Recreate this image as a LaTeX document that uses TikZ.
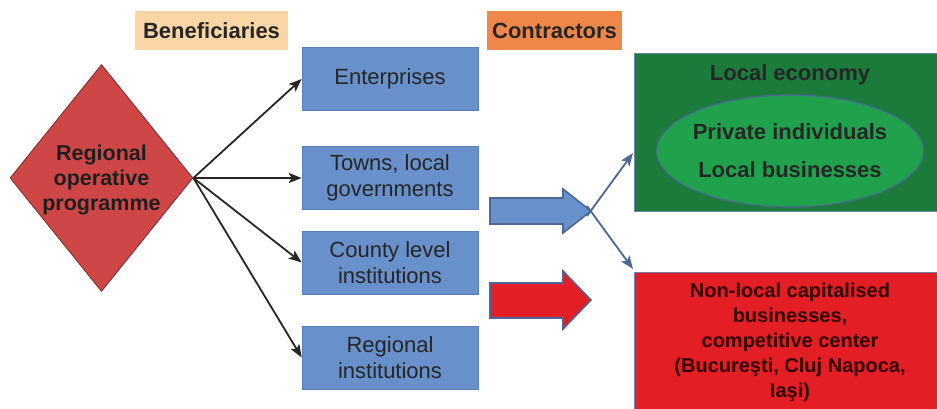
\documentclass[tikz,border=0pt]{standalone}
\usepackage{fontspec}
\setmainfont{Liberation Sans}
\usetikzlibrary{shapes.geometric,arrows.meta}

\definecolor{txt}{HTML}{262626}
\definecolor{peach}{HTML}{FAD6A6}
\definecolor{orangehd}{HTML}{F0874A}
\definecolor{boxblue}{HTML}{6890CB}
\definecolor{boxblueline}{HTML}{5A7DB5}
\definecolor{diamondred}{HTML}{CE4646}
\definecolor{diamondline}{HTML}{7A2B2B}
\definecolor{slate}{HTML}{4C6795}
\definecolor{darkgreen}{HTML}{1A7B3B}
\definecolor{lightgreen}{HTML}{1FA24B}
\definecolor{brightred}{HTML}{E31E25}

\tikzset{
  header/.style={inner sep=0pt, minimum height=39pt, text=txt,
    font=\fontsize{22}{26}\selectfont\bfseries},
  benefbox/.style={draw=boxblueline, line width=0.6pt, fill=boxblue,
    minimum width=176pt, minimum height=63pt, inner sep=0pt, align=center,
    text=txt, font=\fontsize{22}{26}\selectfont},
  fanarrow/.style={draw=black!85, line width=1.8pt,
    -{Stealth[length=13pt,width=10pt,inset=3pt]}},
  blockarrow/.style={draw=slate, line width=1.6pt, line join=miter},
  splitarrow/.style={draw=slate, line width=1.8pt,
    -{Stealth[length=13pt,width=10pt,inset=3pt]}},
  boldtxt/.style={align=center, text=black!88,
    font=\fontsize{21.5}{25}\selectfont\bfseries},
}

\begin{document}
\begin{tikzpicture}[x=1pt,y=-1pt]
\useasboundingbox (0,0) rectangle (937,409);
\fill[white] (0,0) rectangle (937,409);

% column headers
\node[header, fill=peach, minimum width=153pt] (benef) at (211.5,31) {Beneficiaries};
\node[header, fill=orangehd, minimum width=135pt] (contr) at (554.5,31) {Contractors};

% programme diamond
\node[diamond, draw=diamondline, line width=0.8pt, fill=diamondred,
      minimum width=183pt, minimum height=227pt, inner sep=0pt] (rop) at (101.5,178) {};
\node[boldtxt] (roptext) at (101.5,180) {Regional\\operative\\programme};

% beneficiary boxes
\node[benefbox] (ent) at (390,79) {Enterprises};
\node[benefbox] (town) at (390,178) {Towns, local\\governments};
\node[benefbox] (county) at (390,262.5) {County level\\institutions};
\node[benefbox] (reg) at (390,357.5) {Regional\\institutions};

% fan of arrows from the programme
\draw[fanarrow] (rop.east) -- (ent.west);
\draw[fanarrow] (rop.east) -- (town.west);
\draw[fanarrow] (rop.east) -- (county.west);
\draw[fanarrow] (rop.east) -- (reg.west);

% block arrows
\draw[blockarrow, fill=boxblue] (490,198) -- (563,198) -- (563,189) -- (591,211)
  -- (563,233) -- (563,224) -- (490,224) -- cycle;
\coordinate (bluetip) at (591,211);
\draw[blockarrow, fill=brightred] (490,283) -- (563,283) -- (563,271) -- (591,300)
  -- (563,329) -- (563,318) -- (490,318) -- cycle;

% local economy
\draw[slate!80, line width=0.6pt, fill=darkgreen] (634,53) rectangle (945,211);
\node[boldtxt, font=\fontsize{22}{26}\selectfont\bfseries, text=black!85] (loctitle) at (790,75) {Local economy};
\node[ellipse, draw=slate, line width=1.2pt, fill=lightgreen,
      minimum width=267pt, minimum height=112pt, inner sep=0pt] (ell) at (790,151) {};
\node[align=center, text=black!85, font=\fontsize{22}{38}\selectfont\bfseries] (elltext) at (ell.center)
  {Private individuals\\Local businesses};

% non-local businesses
\draw[slate!80, line width=0.6pt, fill=brightred] (634,272) rectangle (945,415);
\coordinate (nonlocal) at (633,269);
\coordinate (localin) at (633,153);
\node[align=center, text=black!80!red, font=\fontsize{20}{25}\selectfont\bfseries] (nltext) at (790,342)
  {Non-local capitalised\\businesses,\\competitive center\\(Bucureşti, Cluj Napoca,\\Iaşi)};

% split arrows starting at the blue block arrow's tip
\coordinate (splitA) at (587,216);
\coordinate (splitB) at (587,206);
\draw[splitarrow] (splitA) -- (localin);
\draw[splitarrow] (splitB) -- (nonlocal);
\end{tikzpicture}
\end{document}
